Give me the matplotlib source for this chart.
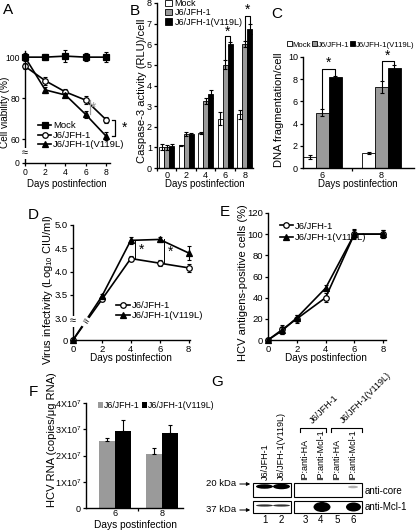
import matplotlib
matplotlib.use("Agg")
import matplotlib.pyplot as plt
import numpy as np
from matplotlib.patches import Rectangle, Ellipse

W, H = 416, 531
plt.rcParams["font.family"] = ["Liberation Sans", "DejaVu Sans"]
plt.rcParams["mathtext.fontset"] = "custom"
plt.rcParams["mathtext.rm"] = "Liberation Sans"
plt.rcParams["mathtext.it"] = "Liberation Sans:italic"
plt.rcParams["font.size"] = 7

# ---------------- data ----------------
days = [0, 2, 4, 6, 8]

# A: cell viability (%)
a_mock = [100, 100, 100.5, 100, 100]
a_mock_err = [2, 1.5, 3, 2, 2.5]
a_wt = [95.5, 88.5, 83, 79, 69.5]
a_wt_err = [1.5, 2, 1.5, 2, 1.5]
a_mut = [100, 84, 81.5, 72, 61.5]
a_mut_err = [1, 1.5, 1, 1.5, 2]

# B: caspase-3 activity
b_mock = [1.0, 1.1, 1.7, 2.4, 2.6]
b_mock_err = [0.15, 0.03, 0.05, 0.3, 0.2]
b_wt = [1.0, 1.65, 3.25, 5.0, 6.0]
b_wt_err = [0.12, 0.1, 0.15, 0.22, 0.15]
b_mut = [1.05, 1.65, 3.6, 6.0, 6.75]
b_mut_err = [0.1, 0.07, 0.2, 0.1, 0.25]

# C: DNA fragmentation
c_days = ["6", "8"]
c_mock = [1.0, 1.35]
c_mock_err = [0.15, 0.1]
c_wt = [5.0, 7.3]
c_wt_err = [0.35, 0.5]
c_mut = [8.2, 9.0]
c_mut_err = [0.12, 0.3]

# D: virus infectivity (log10 CIU/ml)
d_wt = [0, 3.40, 4.28, 4.18, 4.08]
d_wt_err = [0, 0.04, 0.05, 0.07, 0.08]
d_mut = [0, 3.47, 4.67, 4.69, 4.40]
d_mut_err = [0, 0.04, 0.08, 0.05, 0.15]

# E: HCV antigen positive cells (%)
e_days = [0, 1, 2, 4, 6, 8]
e_wt = [0, 10, 20, 40, 100, 100]
e_wt_err = [1, 4, 4, 4, 5, 4]
e_mut = [0, 9, 21, 49, 100, 100]
e_mut_err = [1, 3, 3, 3, 4, 4]

# F: HCV RNA
f_days = ["6", "8"]
f_wt = [2.55e7, 2.05e7]
f_wt_err = [0.12e7, 0.25e7]
f_mut = [2.95e7, 2.85e7]
f_mut_err = [0.42e7, 0.3e7]

GRAY = "#9a9a9a"
fig = plt.figure(figsize=(W / 100, H / 100), dpi=100)


def px_axes(left, top, right, bottom):
    return fig.add_axes([left / W, 1 - bottom / H, (right - left) / W, (bottom - top) / H])


def ftext(x, y, s, **kw):
    kw.setdefault("ha", "center")
    kw.setdefault("va", "center")
    fig.text(x / W, 1 - y / H, s, **kw)


def style(ax, ls=6.5):
    for s in ("top", "right"):
        ax.spines[s].set_visible(False)
    for s in ("left", "bottom"):
        ax.spines[s].set_linewidth(1.0)
    ax.tick_params(direction="out", length=2.5, width=0.9, labelsize=ls, pad=1.2)


def unclip(ax):
    for art in ax.get_children():
        art.set_clip_on(False)


def line_series(ax, x, y, err, marker, mfc, label):
    ax.errorbar(x, y, yerr=err, fmt="none", ecolor="k", elinewidth=0.8, capsize=1.6, capthick=0.8)
    ax.plot(x, y, color="k", lw=1.2, marker=marker, ms=4, mfc=mfc, mec="k", mew=0.9, label=label)


# ---------------- A ----------------
ax = px_axes(25, 51, 110, 163)
style(ax, 6.2)
line_series(ax, days, a_mock, a_mock_err, "s", "k", "Mock")
line_series(ax, days, a_wt, a_wt_err, "o", "white", "J6/JFH-1")
line_series(ax, days, a_mut, a_mut_err, "^", "k", "J6/JFH-1(V119L)")
ax.set_xlim(0, 8.4)
ax.set_ylim(48.3, 103)
ax.set_xticks(days)
ax.set_yticks([48.3, 60, 80, 100], ["0", "60", "80", "100"])
ax.text(0, 53, "≈", ha="center", va="center", fontsize=8,
        bbox=dict(fc="white", ec="none", pad=0.2))
ax.plot([6.45, 6.45], [a_wt[3], a_mut[3]], color=GRAY, lw=0.9)
ax.text(6.8, 75.5, "*", color=GRAY, fontsize=10, ha="center", va="center")
ax.plot([8.55, 8.9, 8.9, 8.55], [a_wt[4], a_wt[4], a_mut[4], a_mut[4]], color="k", lw=0.9)
ax.text(9.8, 65.5, "*", fontsize=10, ha="center", va="center")
ax.legend(loc="lower left", bbox_to_anchor=(0.1, 0.08), frameon=False, fontsize=6.8,
          handlelength=1.4, handletextpad=0.2, labelspacing=0.05, borderpad=0)
unclip(ax)
ftext(5, 112, "Cell viability (%)", rotation=90, fontsize=7.2)
ftext(67, 184, "Days postinfection", fontsize=7)


def grouped_bars(ax, pos, series, width):
    offs = [-width, 0, width]
    for (vals, err, fc, lab), o in zip(series, offs):
        ax.bar(np.array(pos) + o, vals, width, color=fc, edgecolor="k", lw=0.6, label=lab)
        ax.errorbar(np.array(pos) + o, vals, yerr=err, fmt="none", ecolor="k",
                    elinewidth=0.8, capsize=1.4, capthick=0.8)


def bracket(ax, x1, y1, x2, y2, top, star_y, fs=10):
    ax.plot([x1, x1, x2, x2], [y1, top, top, y2], color="k", lw=0.8)
    ax.text((x1 + x2) / 2, star_y, "*", fontsize=fs, ha="center", va="center")


# ---------------- B ----------------
ax = px_axes(157, 3, 253, 168)
style(ax)
bw = 0.52
grouped_bars(ax, days, [(b_mock, b_mock_err, "white", "Mock"),
                        (b_wt, b_wt_err, GRAY, "J6/JFH-1"),
                        (b_mut, b_mut_err, "k", "J6/JFH-1(V119L)")], bw)
ax.set_xlim(-1.0, 8.85)
ax.set_ylim(0, 8)
ax.set_yticks(range(0, 9))
ax.set_xticks([-1, 1, 3, 5, 7], [])
ax.set_xticks(days, [str(d) for d in days], minor=True)
ax.tick_params(axis="x", which="minor", length=0, labelsize=6.5, pad=2)
bracket(ax, 6, b_wt[3] + 0.3, 6 + bw, b_mut[3] + 0.15, 6.4, 6.62)
bracket(ax, 8, b_wt[4] + 0.2, 8 + bw, b_mut[4] + 0.3, 7.35, 7.65)
ax.legend(loc="upper left", bbox_to_anchor=(0.04, 1.05), frameon=False, fontsize=6.5,
          handlelength=0.7, handleheight=0.7, handletextpad=0.3, labelspacing=0.02, borderpad=0)
unclip(ax)
ftext(142, 91, "Caspase-3 activity (RLU)/cell", rotation=90, fontsize=8)
ftext(205, 184, "Days postinfection", fontsize=7)

# ---------------- C ----------------
ax = px_axes(303, 57, 414, 168)
style(ax)
cw = 0.215
grouped_bars(ax, [0, 1], [(c_mock, c_mock_err, "white", "Mock"),
                          (c_wt, c_wt_err, GRAY, "J6/JFH-1"),
                          (c_mut, c_mut_err, "k", "J6/JFH-1(V119L)")], cw)
ax.set_xlim(-0.33, 1.55)
ax.set_ylim(0, 10)
ax.set_yticks(range(0, 11, 2))
ax.set_xticks([0.5], [])
ax.set_xticks([0, 1], c_days, minor=True)
ax.tick_params(axis="x", which="minor", length=0, labelsize=6.5, pad=2)
bracket(ax, 0, c_wt[0] + 0.45, cw, c_mut[0] + 0.2, 8.9, 9.45)
bracket(ax, 1, c_wt[1] + 0.6, 1 + cw, c_mut[1] + 0.4, 9.6, 10.15)
ax.legend(loc="lower center", bbox_to_anchor=(0.43, 1.04), ncol=3, frameon=False, fontsize=5.6,
          handlelength=0.6, handleheight=0.6, handletextpad=0.1, columnspacing=0.15, borderpad=0)
unclip(ax)
ftext(279, 110, "DNA fragmentation/cell", rotation=90, fontsize=8)
ftext(358, 184, "Days postinfection", fontsize=7)

# ---------------- D ----------------
D_ZERO = 2.53


def d_pos(vals):
    return [v if v >= 3 else D_ZERO for v in vals]


ax = px_axes(73, 225, 190, 340)
style(ax, 6.8)
line_series(ax, days, d_pos(d_wt), d_wt_err, "o", "white", "J6/JFH-1")
line_series(ax, days, d_pos(d_mut), d_mut_err, "^", "k", "J6/JFH-1(V119L)")
ax.set_xlim(0, 8.1)
ax.set_ylim(D_ZERO, 5.0)
ax.set_xticks(days)
ax.set_yticks([D_ZERO, 3.0, 3.5, 4.0, 4.5, 5.0], ["0", "3.0", "3.5", "4.0", "4.5", "5.0"])
ax.text(0, 2.93, "≈", ha="center", va="center", fontsize=8,
        bbox=dict(fc="white", ec="none", pad=0.2))
ax.text(0.85, 2.92, "≈", ha="center", va="center", fontsize=8, rotation=-30,
        bbox=dict(fc="white", ec="none", pad=0.1))
ax.plot([4.3, 4.3], [d_wt[2], d_mut[2]], color="k", lw=0.7)
ax.text(4.75, 4.47, "*", fontsize=10, ha="center", va="center")
ax.plot([6.3, 6.3], [d_wt[3], d_mut[3]], color="k", lw=0.7)
ax.text(6.75, 4.43, "*", fontsize=10, ha="center", va="center")
ax.legend(loc="lower left", bbox_to_anchor=(0.33, 0.13), frameon=False, fontsize=6.8,
          handlelength=1.4, handletextpad=0.2, labelspacing=0.1, borderpad=0)
unclip(ax)
ftext(48, 290, "Virus infectivity (Log$_{10}$ CIU/ml)", rotation=90, fontsize=8)
ftext(131, 358, "Days postinfection", fontsize=7.2)

# ---------------- E ----------------
ax = px_axes(268, 213, 386, 340)
style(ax, 6.8)
line_series(ax, e_days, e_wt, e_wt_err, "o", "white", "J6/JFH-1")
line_series(ax, e_days, e_mut, e_mut_err, "^", "k", "J6/JFH-1(V119L)")
ax.set_xlim(0, 8.2)
ax.set_ylim(0, 120)
ax.set_xticks(days)
ax.set_yticks(range(0, 121, 20))
ax.legend(loc="upper left", bbox_to_anchor=(0.06, 0.97), frameon=False, fontsize=6.8,
          handlelength=1.4, handletextpad=0.2, labelspacing=0.3, borderpad=0)
unclip(ax)
ftext(243, 283, "HCV antigens-positive cells (%)", rotation=90, fontsize=8)
ftext(326, 358, "Days postinfection", fontsize=7.2)

# ---------------- F ----------------
ax = px_axes(86, 403, 183, 508)
style(ax, 6.5)
fw = 0.34
ax.bar(np.array([0, 1]) - fw / 2, f_wt, fw, color=GRAY, label="J6/JFH-1")
ax.bar(np.array([0, 1]) + fw / 2, f_mut, fw, color="k", label="J6/JFH-1(V119L)")
ax.errorbar(np.array([0, 1]) - fw / 2, f_wt, yerr=[[0, 0], f_wt_err], fmt="none",
            ecolor="k", elinewidth=0.8, capsize=1.6, capthick=0.8)
ax.errorbar(np.array([0, 1]) + fw / 2, f_mut, yerr=[[0, 0], f_mut_err], fmt="none",
            ecolor="k", elinewidth=0.8, capsize=1.6, capthick=0.8)
ax.set_xlim(-0.62, 1.45)
ax.set_ylim(0, 4e7)
ax.set_yticks([0, 1e7, 2e7, 3e7, 4e7],
              ["0", "1X10$^7$", "2X10$^7$", "3X10$^7$", "4X10$^7$"])
ax.set_xticks([0.5], [])
ax.set_xticks([0, 1], f_days, minor=True)
ax.tick_params(axis="x", which="minor", length=0, labelsize=6.5, pad=1)
ax.legend(loc="upper left", bbox_to_anchor=(0.08, 1.06), ncol=2, frameon=False, fontsize=6.3,
          handlelength=0.6, handleheight=0.6, handletextpad=0.1, columnspacing=0.2, borderpad=0)
ftext(52, 440, "HCV RNA (copies/μg RNA)", rotation=90, fontsize=8)
ftext(135, 525, "Days postinfection", fontsize=7.3)

# ---------------- G (blot schematic, pixel coordinates) ----------------
g = fig.add_axes([0, 0, 1, 1], zorder=-1)
g.set_xlim(0, W)
g.set_ylim(H, 0)
g.axis("off")
for x0, x1 in [(253, 290.5), (294, 362)]:
    g.add_patch(Rectangle((x0, 483), x1 - x0, 13.5, fc="white", ec="k", lw=0.8))
    g.add_patch(Rectangle((x0, 500.5), x1 - x0, 12.5, fc="white", ec="k", lw=0.8))
# anti-core bands
g.add_patch(Ellipse((264.5, 486.5), 17, 4.5, fc="k", ec="none"))
g.add_patch(Ellipse((281.5, 486.5), 17, 5.5, fc="k", ec="none"))
g.add_patch(Ellipse((353, 487), 10, 2.5, fc="#b0b0b0", ec="none"))
# anti-Mcl-1 bands
g.add_patch(Ellipse((264.5, 505.5), 17, 2.2, fc="#333333", ec="none"))
g.add_patch(Ellipse((281.5, 505.5), 17, 2.2, fc="#333333", ec="none"))
g.add_patch(Ellipse((322, 507), 17, 10, fc="k", ec="none"))
g.add_patch(Ellipse((353.5, 507), 15, 9, fc="k", ec="none"))
lane_x = [265, 281, 305, 321, 337, 353]
for i, x in enumerate(lane_x, start=1):
    g.text(x, 520, str(i), ha="center", va="center", fontsize=7)
lane_labels = ["J6/JFH-1", "J6/JFH-1(V119L)", "IP:anti-HA", "IP:anti-Mcl-1",
               "IP:anti-HA", "IP:anti-Mcl-1"]
for x, s in zip(lane_x, lane_labels):
    g.text(x, 480, s, rotation=90, ha="center", va="bottom", fontsize=6.5)
for x0, x1, s in [(300, 326, "J6/JFH-1"), (331, 362, "J6/JFH-1(V119L)")]:
    g.plot([x0, x0, x1, x1], [432, 428, 428, 432], color="k", lw=0.8)
    g.text(x0 + 14, 425, s, rotation=45, rotation_mode="anchor", ha="left", va="bottom",
           fontsize=6.5)
g.text(365, 491, "anti-core", ha="left", va="center", fontsize=7)
g.text(365, 507, "anti-Mcl-1", ha="left", va="center", fontsize=7)
for y, s in [(484, "20 kDa"), (510, "37 kDa")]:
    g.text(236, y, s, ha="right", va="center", fontsize=6.8)
    g.annotate("", xy=(253, y), xytext=(237, y),
               arrowprops=dict(arrowstyle="-|>", lw=0.7, color="k", mutation_scale=5))

# panel letters
for s, x, y in [("A", 8, 10), ("B", 135, 11), ("C", 277, 14), ("D", 33, 215),
                ("E", 225, 212), ("F", 33, 392), ("G", 217, 382)]:
    ftext(x, y, s, fontsize=11)

fig.savefig("out.png", dpi=100)
